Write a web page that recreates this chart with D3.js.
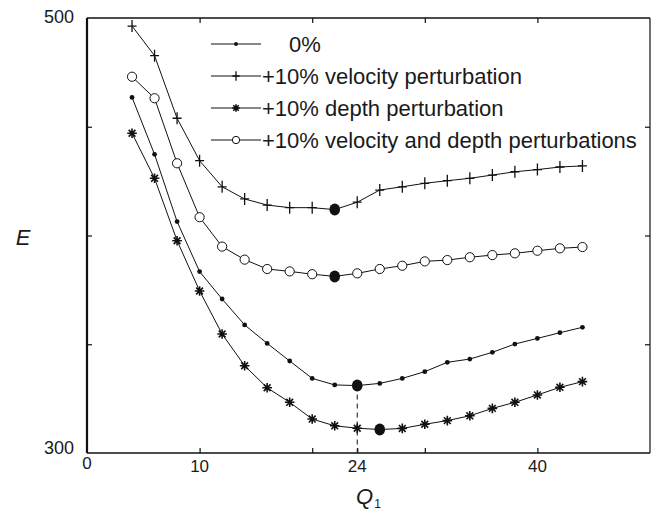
<!DOCTYPE html>
<html>
<head>
<meta charset="utf-8">
<script src="https://cdn.jsdelivr.net/npm/d3@7"></script>
<style>
  html, body { margin: 0; padding: 0; background: #fff; }
  svg { display: block; }
  text { font-family: "Liberation Sans", Arial, Helvetica, sans-serif; fill: #1a1a1a; }
</style>
</head>
<body>
<svg id="chart" width="655" height="513"></svg>
<script>
// ---- data ----
const q1 = [4, 6, 8, 10, 12, 14, 16, 18, 20, 22, 24, 26, 28, 30, 32, 34, 36, 38, 40, 42, 44];
const e0 = [463.5, 437.3, 406.4, 383.4, 370.8, 358.9, 350.4, 342.3, 334.3, 331.3, 331.0, 332.0, 334.3, 337.4, 341.7, 343.2, 346.3, 350.1, 352.7, 355.3, 357.8];
const eVel = [496.3, 482.7, 453.9, 434.4, 422.4, 416.8, 414.0, 412.8, 412.8, 411.9, 415.3, 420.9, 422.4, 424.0, 425.2, 426.3, 427.8, 429.3, 430.3, 431.5, 432.0];
const eDepth = [447.0, 426.3, 397.6, 374.5, 354.7, 340.1, 330.0, 323.3, 315.6, 312.5, 311.4, 310.8, 311.3, 313.2, 314.9, 317.1, 320.5, 323.3, 326.7, 330.2, 332.8];
const eBoth = [473.0, 463.1, 433.2, 408.4, 394.9, 388.9, 384.6, 383.5, 382.2, 381.2, 382.6, 384.6, 386.1, 388.1, 388.7, 390.0, 391.0, 391.8, 393.0, 394.1, 394.7];
const seriesNames = ["0%", "+10% velocity perturbation", "+10% depth perturbation", "+10% velocity and depth perturbations"];
const seriesMarkers = ["dot", "plus", "star", "circle"];
const xTicks = [10, 20, 24, 30, 40];
const xTickLabels = [0, 10, 24, 40];
const yTicks = [350, 400, 450];
const yTickLabels = [300, 500];
const xDomain = [0, 50];
const yDomain = [300, 500];

const seriesValues = [e0, eVel, eDepth, eBoth];
const series = seriesNames.map((name, i) => ({
  name, marker: seriesMarkers[i],
  points: q1.map((q, j) => ({ q, e: seriesValues[i][j] }))
}));

// ---- layout ----
const svg = d3.select("#chart");
const L = 87, R = 650, T = 18, B = 453;
const x = d3.scaleLinear().domain(xDomain).range([L, R]);
const y = d3.scaleLinear().domain(yDomain).range([B, T]);
const ink = "#111";

// markers
function drawMarker(g, type, scale) {
  const s = scale || 1;
  if (type === "dot") {
    g.append("circle").attr("r", 2.4 * s).attr("fill", ink);
  } else if (type === "plus") {
    g.append("path").attr("d", `M${-4.5*s},0H${4.5*s}M0,${-6*s}V${6*s}`)
      .attr("stroke", ink).attr("stroke-width", 1.3).attr("fill", "none");
  } else if (type === "star") {
    const r = 4.8 * s;
    const d = [0, 45, 90, 135].map(a => {
      const rad = a * Math.PI / 180, cx = Math.cos(rad) * r, cy = Math.sin(rad) * r;
      return `M${-cx},${-cy}L${cx},${cy}`;
    }).join("");
    g.append("path").attr("d", d).attr("stroke", ink).attr("stroke-width", 1.6).attr("fill", "none");
  } else if (type === "circle") {
    g.append("circle").attr("r", 4.6 * s).attr("fill", "#fff").attr("stroke", ink).attr("stroke-width", 1);
  }
}

// dashed line at minimum of 0% series
const min0 = d3.least(series[0].points, p => p.e);
svg.append("line")
  .attr("x1", x(min0.q)).attr("x2", x(min0.q))
  .attr("y1", y(min0.e)).attr("y2", B)
  .attr("stroke", ink).attr("stroke-width", 1).attr("stroke-dasharray", "5,4");

// lines
const line = d3.line().x(p => x(p.q)).y(p => y(p.e));
series.forEach(s => {
  svg.append("path").datum(s.points).attr("d", line)
    .attr("fill", "none").attr("stroke", ink).attr("stroke-width", 1);
});

// markers on points
series.forEach(s => {
  const minP = d3.least(s.points, p => p.e);
  s.points.forEach(p => {
    if (p === minP) return;
    const g = svg.append("g").attr("transform", `translate(${x(p.q)},${y(p.e)})`);
    drawMarker(g, s.marker, 1);
  });
  svg.append("ellipse").attr("cx", x(minP.q)).attr("cy", y(minP.e))
    .attr("rx", 5.3).attr("ry", 6).attr("fill", ink);
});

// axes (inward ticks)
const axB = svg.append("g").attr("transform", `translate(0,${B})`)
  .call(d3.axisBottom(x).tickValues(xTicks).tickSize(-5).tickFormat(""));
const axT = svg.append("g").attr("transform", `translate(0,${T})`)
  .call(d3.axisTop(x).tickValues(xTicks.filter(v => v !== 24)).tickSize(-5).tickFormat(""));
const axL = svg.append("g").attr("transform", `translate(${L},0)`)
  .call(d3.axisLeft(y).tickValues(yTicks).tickSize(-5).tickFormat(""));
const axR = svg.append("g").attr("transform", `translate(${R},0)`)
  .call(d3.axisRight(y).tickValues(yTicks).tickSize(-5).tickFormat(""));
[axB, axT, axL, axR].forEach(a => {
  a.select(".domain").remove();
  a.selectAll(".tick line").attr("stroke", ink).attr("stroke-width", 1.2);
});

// tick labels
svg.append("g").selectAll("text").data(xTickLabels).join("text")
  .attr("x", d => x(d)).attr("y", d => d === 0 ? 469 : 472)
  .attr("text-anchor", "middle").attr("font-size", 17).text(d => d);
svg.append("g").selectAll("text").data(yTickLabels).join("text")
  .attr("x", 74).attr("y", d => y(d) + (d === 300 ? 1 : 5))
  .attr("text-anchor", "end").attr("font-size", 18).text(d => d);

// frame
svg.append("line").attr("x1", L).attr("x2", L).attr("y1", T).attr("y2", B).attr("stroke", ink).attr("stroke-width", 2.2);
svg.append("line").attr("x1", L).attr("x2", R).attr("y1", B).attr("y2", B).attr("stroke", ink).attr("stroke-width", 1.6);
svg.append("line").attr("x1", L).attr("x2", R).attr("y1", T).attr("y2", T).attr("stroke", ink).attr("stroke-width", 1.4);
svg.append("line").attr("x1", R).attr("x2", R).attr("y1", T).attr("y2", B).attr("stroke", ink).attr("stroke-width", 1.2);

// axis titles
svg.append("text").attr("x", 23).attr("y", 245).attr("text-anchor", "middle")
  .attr("font-size", 22).attr("font-style", "italic").text("E");
const qt = svg.append("text").attr("x", 356).attr("y", 504).attr("font-size", 22).attr("font-style", "italic");
qt.append("tspan").text("Q");
qt.append("tspan").attr("font-size", 12).attr("font-style", "normal").attr("dx", 1).attr("dy", 4).text("1");

// legend
const legY = [44, 76, 108, 140];
series.forEach((s, i) => {
  const g = svg.append("g").attr("transform", `translate(0,${legY[i]})`);
  g.append("line").attr("x1", 211).attr("x2", 261).attr("y1", 0).attr("y2", 0)
    .attr("stroke", ink).attr("stroke-width", 1);
  const m = g.append("g").attr("transform", "translate(236,0)");
  drawMarker(m, s.marker, 0.8);
  g.append("text").attr("x", i === 0 ? 289 : 262).attr("y", 7.5)
    .attr("font-size", 22).text(s.name);
});
</script>
</body>
</html>
